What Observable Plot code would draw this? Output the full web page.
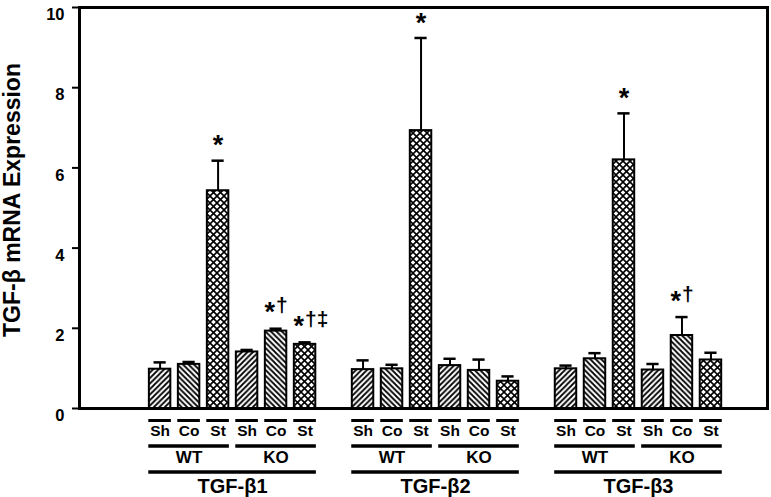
<!DOCTYPE html>
<html><head><meta charset="utf-8">
<script src="https://cdn.jsdelivr.net/npm/d3@7"></script>
<script src="https://cdn.jsdelivr.net/npm/@observablehq/plot@0.6"></script>
<style>body{margin:0;background:#fff} svg{display:block} #chart{width:771px;height:497px}</style>
</head><body><div id="chart"></div>
<script>
const genes = ["TGF-β1", "TGF-β2", "TGF-β3"];
const genotypes = ["WT", "KO"];
const treatments = ["Sh", "Co", "St"];
const yTicks = [0, 2, 4, 6, 8, 10];
const yLabel = "TGF-β mRNA Expression";

// order within each gene: WT Sh, WT Co, WT St, KO Sh, KO Co, KO St
const tgfb1Mean = [0.98, 1.10, 5.43, 1.41, 1.93, 1.60];
const tgfb1Sem  = [0.17, 0.06, 0.75, 0.05, 0.06, 0.05];
const tgfb1Sig  = ["", "", "*", "", "*†", "*†‡"];

const tgfb2Mean = [0.97, 0.99, 6.93, 1.07, 0.95, 0.68];
const tgfb2Sem  = [0.23, 0.10, 2.31, 0.17, 0.27, 0.12];
const tgfb2Sig  = ["", "", "*", "", "", ""];

const tgfb3Mean = [0.99, 1.24, 6.20, 0.96, 1.82, 1.21];
const tgfb3Sem  = [0.08, 0.14, 1.16, 0.15, 0.46, 0.18];
const tgfb3Sig  = ["", "", "*", "", "*†", ""];

const means = [tgfb1Mean, tgfb2Mean, tgfb3Mean];
const sems = [tgfb1Sem, tgfb2Sem, tgfb3Sem];
const sigs = [tgfb1Sig, tgfb2Sig, tgfb3Sig];

const per = genotypes.length * treatments.length;
const rows = [];
genes.forEach((gene, gi) => {
  for (let k = 0; k < per; k++) {
    rows.push({
      gene, genotype: genotypes[Math.floor(k / treatments.length)],
      treatment: treatments[k % treatments.length],
      pos: gi * (per + 1) + k,
      mean: means[gi][k], sem: sems[gi][k], sig: sigs[gi][k]
    });
  }
});
const genotypeSpans = d3.groups(rows, d => d.gene + "|" + d.genotype).map(([, g]) => ({
  label: g[0].genotype, first: d3.min(g, d => d.pos), last: d3.max(g, d => d.pos)
}));
const geneSpans = d3.groups(rows, d => d.gene).map(([, g]) => ({
  label: g[0].gene, first: d3.min(g, d => d.pos), last: d3.max(g, d => d.pos)
}));

const hw = 0.37;   // bar half width (in slots)
const font = "'Liberation Sans', Arial, Helvetica, sans-serif";
const sigRows = rows.filter(d => d.sig);
const starOf = d => d.sig.slice(0, 1);
const restOf = d => d.sig.slice(1);

const svg = Plot.plot({
  width: 771, height: 497,
  marginLeft: 79, marginRight: 4, marginTop: 7, marginBottom: 89,
  style: {fontFamily: font, background: "white", color: "black"},
  x: {type: "linear", domain: [-2.78, 20.95], axis: null},
  y: {domain: [0, 10], axis: null},
  color: {type: "identity"},
  marks: [
    Plot.rectY(rows, {x1: d => d.pos - hw, x2: d => d.pos + hw, y1: 0, y2: "mean",
      fill: d => `url(#hatch-${d.treatment})`, stroke: "black", strokeWidth: 2}),
    Plot.ruleX(rows, {x: "pos", y1: "mean", y2: d => d.mean + d.sem, stroke: "black", strokeWidth: 2}),
    Plot.ruleY(rows, {y: d => d.mean + d.sem, x1: d => d.pos - 0.21, x2: d => d.pos + 0.21, stroke: "black", strokeWidth: 2.5}),
    // significance marks
    Plot.text(sigRows.filter(d => restOf(d) === ""), {x: "pos", y: d => d.mean + d.sem, text: starOf,
      dy: -15, fontSize: 27, fontWeight: "bold", lineAnchor: "middle"}),
    Plot.text(sigRows.filter(d => restOf(d) !== ""), {x: "pos", y: d => d.mean + d.sem, text: starOf,
      dy: -16, dx: -1, textAnchor: "end", fontSize: 27, fontWeight: "bold", lineAnchor: "middle"}),
    Plot.text(sigRows.filter(d => restOf(d) !== ""), {x: "pos", y: d => d.mean + d.sem, text: restOf,
      dy: -23, dx: 0, textAnchor: "start", fontSize: 21, fontWeight: "bold", lineAnchor: "middle"}),
    // category labels below axis
    Plot.ruleY(rows, {y: 0, x1: d => d.pos - hw - 0.02, x2: d => d.pos + hw + 0.02, dy: 12, stroke: "black", strokeWidth: 3}),
    Plot.text(rows, {x: "pos", y: 0, text: "treatment", dy: 23, fontSize: 15.5, fontWeight: "bold"}),
    Plot.ruleY(genotypeSpans, {y: 0, x1: d => d.first - hw - 0.02, x2: d => d.last + hw + 0.02, dy: 37.5, stroke: "black", strokeWidth: 3.5}),
    Plot.text(genotypeSpans, {x: d => (d.first + d.last) / 2, y: 0, text: "label", dy: 49.5, fontSize: 17, fontWeight: "bold"}),
    Plot.ruleY(geneSpans, {y: 0, x1: d => d.first - hw - 0.02, x2: d => d.last + hw + 0.02, dy: 63.5, stroke: "black", strokeWidth: 3.5}),
    Plot.text(geneSpans, {x: d => (d.first + d.last) / 2, y: 0, text: "label", dy: 78, fontSize: 20, fontWeight: "bold"}),
    // axes
    Plot.axisY({ticks: yTicks, tickSize: 7, tickPadding: 8, strokeWidth: 2, fontSize: 16.5, fontWeight: "bold", label: null}),
    Plot.frame({stroke: "black", strokeWidth: 3}),
    Plot.text([yLabel], {frameAnchor: "left", text: d => d, rotate: -90, textAnchor: "middle", lineAnchor: "middle",
      dx: -67, dy: -8, fontSize: 23, fontWeight: "bold"})
  ]
});

const defs = d3.select(svg).insert("defs", ":first-child");
function hatch(id, size, paths, sw) {
  const p = defs.append("pattern").attr("id", id).attr("patternUnits", "userSpaceOnUse")
    .attr("width", size).attr("height", size);
  p.append("rect").attr("width", size).attr("height", size).attr("fill", "white");
  paths.forEach(dPath => p.append("path").attr("d", dPath).attr("stroke", "black")
    .attr("stroke-width", sw).attr("fill", "none"));
}
{
  const s = 5.5;
  hatch("hatch-Sh", s, [`M0,${s} L${s},0`, `M${-s/2},${s/2} L${s/2},${-s/2}`, `M${s/2},${s*1.5} L${s*1.5},${s/2}`], 1.8);
  hatch("hatch-Co", s, [`M0,0 L${s},${s}`, `M${-s/2},${s/2} L${s/2},${s*1.5}`, `M${s/2},${-s/2} L${s*1.5},${s/2}`], 1.8);
  const c = 7;
  hatch("hatch-St", c, [`M0,0 L${c},${c}`, `M0,${c} L${c},0`], 1.6);
}
// y tick labels sit slightly below their ticks, as in the reference
d3.select(svg).selectAll("g[aria-label='y-axis tick label'] text").attr("dy", "0.45em");
document.getElementById("chart").appendChild(svg);
</script>
</body></html>
